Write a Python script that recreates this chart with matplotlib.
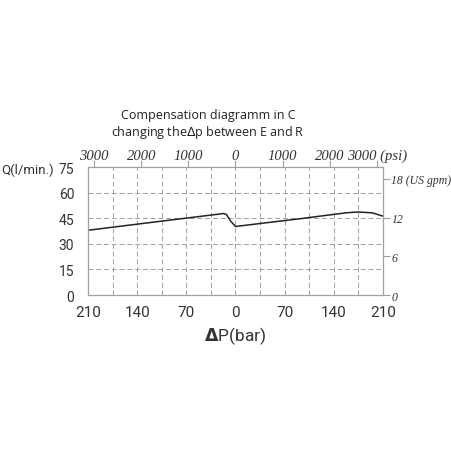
import numpy as np
import matplotlib
matplotlib.use('Agg')
import matplotlib.pyplot as plt
from matplotlib.ticker import FuncFormatter

# curve (bar, l/min), left half is negative dp
dp = [-210, -120, -17, -13, -7, 0, 50, 93, 140, 160, 175, 195, 210]
flow = [38.0, 42.6, 47.8, 47.3, 43.4, 40.2, 42.7, 44.8, 47.3, 48.3, 48.7, 48.2, 46.3]

bar_ticks = [-210, -140, -70, 0, 70, 140, 210]
q_ticks = [0, 15, 30, 45, 60, 75]
psi_ticks = [-3000, -2000, -1000, 0, 1000, 2000, 3000]
psi_labels = ['3000', '2000', '1000', '0', '1000', '2000', '3000 (psi)']
gpm_ticks = [0, 6, 12, 18]
gpm_labels = ['0', '6', '12', '18 (US gpm)']

PSI_PER_BAR = 14.9
LPM_PER_GPM = 3.785

GRID = '#a0a0a0'
TXT = '#333333'
SANS = ['Roboto', 'DejaVu Sans']
SERIF = ['Liberation Serif', 'DejaVu Serif']

fig = plt.figure(figsize=(4.52, 4.52), dpi=100)
ax = fig.add_axes([0.195, 0.345, 0.652, 0.283])

ax.plot(dp, flow, color='#222222', lw=1.1)
ax.set_xlim(-210, 210)
ax.set_ylim(0, 75)

ax.set_xticks(np.arange(-210, 211, 35), minor=True)
ax.set_xticks(bar_ticks)
ax.xaxis.set_major_formatter(FuncFormatter(lambda v, p: '%d' % abs(v)))
ax.set_yticks(q_ticks)
ax.tick_params(which='both', length=0, labelcolor=TXT)
ax.tick_params(axis='x', labelsize=11, pad=7)
ax.tick_params(axis='y', labelsize=10, pad=10)
for lbl in ax.get_xticklabels() + ax.get_yticklabels():
    lbl.set_family(SANS)
ax.grid(True, which='both', axis='x', ls=(0, (5, 3)), color=GRID, lw=0.7)
ax.grid(True, axis='y', ls=(0, (5, 3)), color=GRID, lw=0.7)
for s in ax.spines.values():
    s.set_color(GRID)
    s.set_linewidth(0.9)

ax.set_xlabel(r'$\mathbf{\Delta}$P(bar)', fontsize=12.5, color=TXT, labelpad=4,
              family=SANS)

# psi scale on top
top = ax.secondary_xaxis('top', functions=(lambda b: b * PSI_PER_BAR, lambda p: p / PSI_PER_BAR))
top.set_xticks(psi_ticks)
top.set_xticklabels(psi_labels)
top.tick_params(length=5, color=GRID, pad=-1, labelsize=10.5)
for lbl in top.get_xticklabels():
    lbl.set_family(SERIF)
    lbl.set_style('italic')
    lbl.set_color(TXT)
top.spines['top'].set_visible(False)

# US gpm scale on the right
right = ax.secondary_yaxis('right', functions=(lambda q: q / LPM_PER_GPM, lambda g: g * LPM_PER_GPM))
right.set_yticks(gpm_ticks)
right.set_yticklabels(gpm_labels)
right.tick_params(length=5, color=GRID, pad=1, labelsize=8.5)
for lbl in right.get_yticklabels():
    lbl.set_family(SERIF)
    lbl.set_style('italic')
    lbl.set_color(TXT)
right.spines['right'].set_visible(False)

fig.text(0.002, 0.624, 'Q(l/min.)', fontsize=9.5, color=TXT, ha='left', va='center',
         family=SANS)

fig.text(0.46, 0.745, 'Compensation diagramm in C', family='Open Sans', fontsize=9,
         ha='center', va='center', color='#222222')
fig.text(0.46, 0.707, r'changing the$\Delta$p between E and R', family='Open Sans', fontsize=9,
         ha='center', va='center', color='#222222')

fig.savefig('out.png', dpi=100)
